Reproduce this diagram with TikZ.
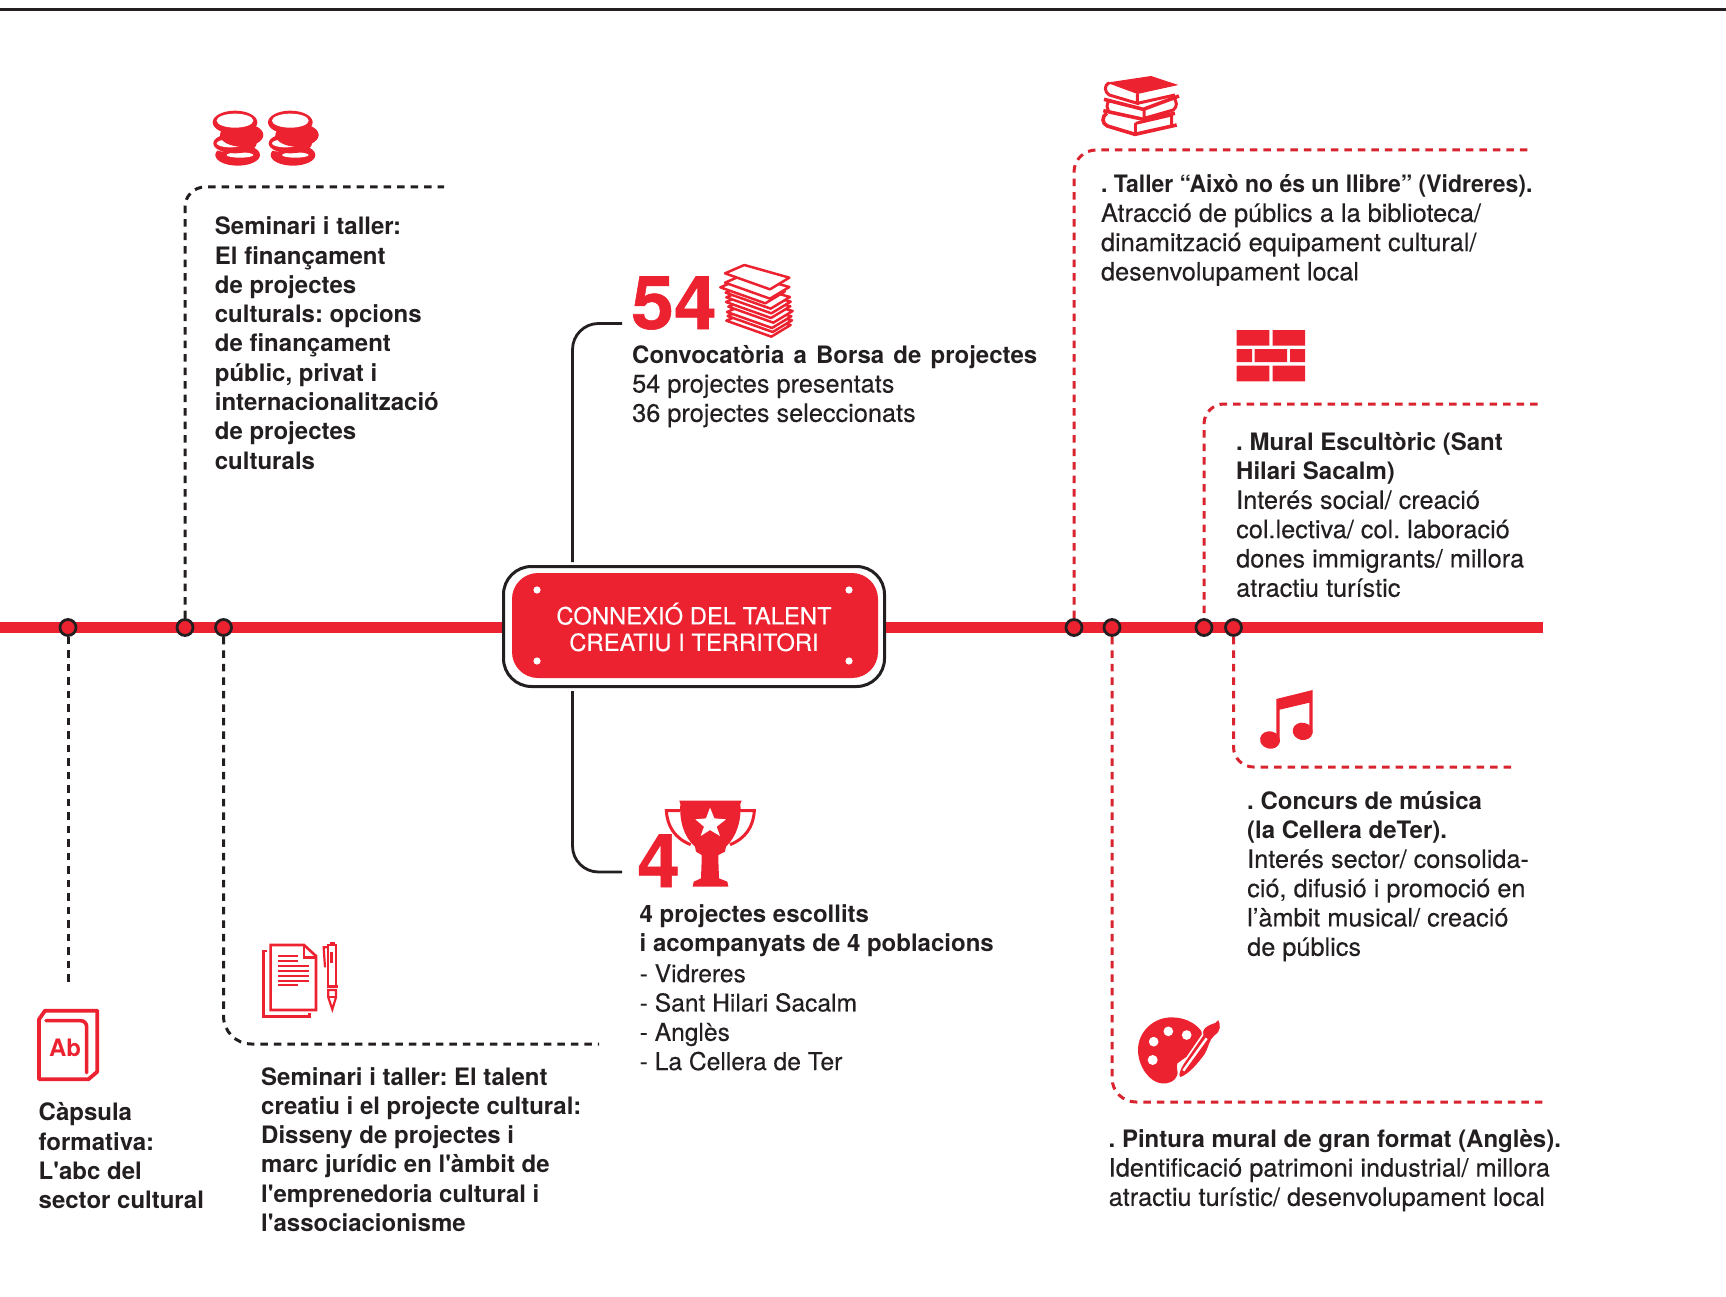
\documentclass[tikz,border=0pt]{standalone}
\usepackage{fontspec}
\usepackage{graphicx}
\newfontfamily\regf[FakeBold=0.2]{TeX Gyre Heros}
\newfontfamily\bldf{TeX Gyre Heros}
\newfontfamily\bigf[FakeBold=0.8,FakeStretch=1.04]{TeX Gyre Heros}
\newcommand\bdl{\bldf\bfseries\fontsize{24}{29.3}\selectfont}
\newcommand\lst{\fontsize{24.6}{29.3}\selectfont}
\definecolor{bred}{HTML}{ED2230}
\definecolor{dred}{HTML}{D9232E}
\definecolor{bink}{HTML}{231F20}
\tikzset{
  txt/.style={inner sep=0pt,anchor=north west,align=left,text=bink,font=\regf\fontsize{25.3}{29.3}\selectfont\frenchspacing},
  big/.style={inner sep=0pt,anchor=base west,text=bred,font=\bigf\bfseries\fontsize{74}{74}\selectfont},
  knot/.style={circle,draw=bink,fill=bred,line width=2.8pt,minimum size=16pt,inner sep=0pt},
  bdash/.style={draw=bink,line width=3pt,dash pattern=on 7.5pt off 6pt},
  rdash/.style={draw=dred,line width=3pt,dash pattern=on 7.5pt off 6pt},
  bracket/.style={draw=bink,line width=2.8pt,rounded corners=26pt,shorten <=3pt},
  rail/.style={draw=bred,line width=11pt},
  icn/.style={draw=bred,line width=3pt,fill=none},
}
\begin{document}
\begin{tikzpicture}[x=1pt,y=-1pt]
\useasboundingbox (0,0) rectangle (1726,1297);
\coordinate (topL) at (0,10); \coordinate (topR) at (1726,10);
\draw[bink,line width=3pt] (topL) -- (topR);
% hub
\node[draw=bink,fill=white,line width=3pt,rounded corners=28pt,minimum width=381pt,minimum height=120pt,inner sep=0pt] (hub) at (694,626.5) {};
\coordinate (railL) at (0,627.5); \coordinate (railR) at (1543,627.5);
\draw[rail] (railL) -- (railL -| hub.west);
\draw[rail] (railL -| hub.east) -- (railR);
\node[fill=bred,rounded corners=26pt,minimum width=366pt,minimum height=105pt,inner sep=0pt] (hubin) at (695,625.5) {};
\node[inner sep=0pt,text=white,align=center,font=\regf\fontsize{23.8}{26.5}\selectfont] (hubtxt) at (694,627) {CONNEXIÓ DEL TALENT\\CREATIU I TERRITORI};
\foreach \nm/\px/\py in {a/537/590,b/849/590,c/537/661,d/849/661}
  \fill[white] (\px,\py) circle (3.6);
% knots
\node[knot] (k1) at (68,627.5) {};
\node[knot] (k2) at (185,627.5) {};
\node[knot] (k3) at (223.5,627.5) {};
\node[knot] (k4) at (1074,627.5) {};
\node[knot] (k5) at (1112,627.5) {};
\node[knot] (k6) at (1204,627.5) {};
\node[knot] (k7) at (1233.5,627.5) {};
% connector ends
\coordinate (e1) at (68,982);
\coordinate (e2) at (444,187);
\coordinate (e3) at (599,1044);
\coordinate (e4) at (1531,150);
\coordinate (e5) at (1538,404);
\coordinate (e6) at (1516,767);
\coordinate (e7) at (1544,1102);
\coordinate (b1) at (622,323.5);
\coordinate (b2) at (622,872);
\coordinate (bx) at (572.5,0);
\draw[bdash] (k1) -- (e1);
\draw[bdash,rounded corners=20pt] (k2) |- (e2);
\draw[bdash,rounded corners=28pt] (k3) |- (e3);
\draw[rdash,rounded corners=22pt] (k4) |- (e4);
\draw[rdash,rounded corners=20pt,dash phase=8.5pt] (k6) |- (e5);
\draw[rdash,rounded corners=20pt] (k7) |- (e6);
\draw[rdash,rounded corners=24pt] (k5) |- (e7);
\draw[bracket] (hub.north -| bx) |- (b1);
\draw[bracket] (hub.south -| bx) |- (b2);
% big numbers
\node[big] (n54) at (631,329) {54};
\node[big] (n4) at (637,887) {4};
% texts
\node[txt] (tA) at (214.7,216.7) {\bdl Seminari i taller:\\\bdl El finançament\\\bdl de projectes\\\bdl culturals: opcions\\\bdl de finançament\\\bdl públic, privat i\\\bdl internacionalització\\\bdl de projectes\\\bdl culturals};
\node[txt] (tC) at (632,345) {\bdl\makebox[405pt][s]{Convocatòria a Borsa de projectes}\\54 projectes presentats\\36 projectes seleccionats};
\node[txt] (tD) at (639.5,904) {\bdl 4 projectes escollits\\\bdl i acompanyats de 4 poblacions\\[1.5pt]\lst - Vidreres\\\lst - Sant Hilari Sacalm\\\lst - Anglès\\\lst - La Cellera de Ter};
\node[txt] (tE) at (38.5,1102.6) {\bdl Càpsula\\\bdl formativa:\\\bdl L'abc del\\\bdl sector cultural};
\node[txt] (tF) at (261,1067) {\bdl Seminari i taller: El talent\\\bdl creatiu i el projecte cultural:\\\bdl Disseny de projectes i\\\bdl marc jurídic en l'àmbit de\\\bdl l'emprenedoria cultural i\\\bdl l'associacionisme};
\node[txt] (tG) at (1100.8,174.3) {\resizebox{431.5pt}{\height}{\bdl . Taller “Això no és un llibre” (Vidreres).}\\Atracció de públics a la biblioteca/\\dinamització equipament cultural/\\desenvolupament local};
\node[txt] (tH) at (1236,432) {\bdl . Mural Escultòric (Sant\\\bdl Hilari Sacalm)\\Interés social/ creació\\col.lectiva/ col. laboració\\dones immigrants/ millora\\atractiu turístic};
\node[txt] (tI) at (1247,791) {\bdl . Concurs de música\\\bdl (la Cellera deTer).\\Interés sector/ consolida-\\ció, difusió i promoció en\\l’àmbit musical/ creació\\de públics};
\node[txt] (tJ) at (1108.5,1129) {\bdl . Pintura mural de gran format (Anglès).\\Identificació patrimoni industrial/ millora\\atractiu turístic/ desenvolupament local};
% coins
\begin{scope}[shift={(180,90)},scale=1/3]
\foreach \sx in {0,166}{
\begin{scope}[shift={(\sx,0)}]
\fill[bred] (173,195) ellipse [x radius=67,y radius=32];
\fill[white] (180,195) ellipse [x radius=40,y radius=8];
\fill[white] (145,174) ellipse [x radius=42,y radius=12];
\fill[bred] (165,160) ellipse [x radius=65,y radius=30];
\fill[white] (150,160) ellipse [x radius=40,y radius=12];
\fill[bred] (185,135) ellipse [x radius=65,y radius=35];
\fill[bred] (165,97) ellipse [x radius=67,y radius=35];
\fill[white] (165,92) ellipse [x radius=55,y radius=21];
\end{scope}}
\end{scope}
% paper stack
\begin{scope}[shift={(610,240)},scale=1/3]
\foreach \dx/\dy in {4/142,8/128,6/116,10/100,3/86,4/72,2/58,-14/42,0/28,0/0}
  \draw[bred,fill=white,line width=2.5pt,line join=round] (345+\dx,100+\dy) -- (403+\dx,75+\dy) -- (538+\dx,113+\dy) -- (480+\dx,148+\dy) -- cycle;
\end{scope}
% books
\begin{scope}[shift={(1080,60)},scale=1/3]
\fill[bred] (80,68) -- (213,48) -- (295,75) -- (172,102) -- cycle;
\draw[icn] (88,68) .. controls (72,75) and (72,95) .. (88,105) -- (172,130) -- (172,102);
\draw[icn] (172,130) -- (285,105);
\draw[icn,line width=3.6pt] (72,118) -- (190,148) -- (297,108);
\draw[icn] (280,112) .. controls (292,125) and (292,140) .. (280,150) -- (192,175) -- (192,148);
\draw[icn] (85,125) .. controls (80,135) and (80,145) .. (85,152);
\draw[icn,line width=3.6pt] (70,152) -- (190,178) -- (285,160);
\draw[icn,line width=3.6pt] (80,160) .. controls (65,170) and (65,190) .. (82,198) -- (165,223) -- (290,195);
\draw[icn] (167,190) -- (167,222);
\draw[icn] (167,190) -- (275,165) -- (275,195);
\end{scope}
% bricks
\begin{scope}[shift={(1190,310)},scale=1/3]
\fill[bred] (140,60) rectangle (238,107) (248,60) rectangle (345,107)
 (140,117) rectangle (186,156) (194,117) rectangle (291,156) (300,117) rectangle (345,156)
 (140,167) rectangle (238,214) (248,167) rectangle (345,214);
\end{scope}
% music
\begin{scope}[shift={(1210,610)},scale=1/3]
\fill[bred] (199,267) -- (308,240) -- (308,370) -- (298,370) -- (298,278) -- (209,299) -- (209,390) -- (199,390) -- cycle;
\fill[bred,rotate around={-12:(180,390)}] (180,390) ellipse [x radius=30,y radius=26];
\fill[bred,rotate around={-12:(278,364)}] (278,364) ellipse [x radius=30,y radius=26];
\end{scope}
% trophy
\begin{scope}[shift={(620,780)},scale=1/3]
\draw[bred,line width=3pt] (180,92) -- (139,92) .. controls (142,140) and (165,175) .. (212,194);
\draw[bred,line width=3pt] (360,92) -- (403,92) .. controls (400,140) and (377,175) .. (330,194);
\fill[bred] (178,62) -- (365,62) -- (361,72) .. controls (365,120) and (350,170) .. (318,200) -- (315,215) -- (295,225) -- (295,240) -- (297,295) -- (322,305) -- (325,320) -- (218,320) -- (221,305) -- (243,295) -- (245,240) -- (245,225) -- (228,215) -- (225,200) .. controls (190,170) and (178,120) .. (181,72) -- cycle;
\fill[white] (270,83) -- (283,115) -- (318,118) -- (290,140) -- (300,168) -- (270,150) -- (242,168) -- (252,140) -- (226,118) -- (258,115) -- cycle;
\end{scope}
% doc, pen, Ab book
\begin{scope}[shift={(20,920)},scale=1/3]
\draw[icn,line width=2.6pt,miter limit=10] (752,75) -- (852,75) -- (888,108) -- (888,270) -- (752,270) -- cycle;
\draw[icn,line width=2.4pt] (852,75) -- (852,112) -- (888,112);
\foreach \ly/\lx in {108/833,123/833,138/868,153/868,168/868,182/868,196/833}
  \draw[bred,line width=2.2pt] (775,\ly) -- (\lx,\ly);
\draw[icn,line width=2.6pt] (742,93) -- (730,93) -- (730,290) -- (868,290) -- (868,280);
\draw[icn,line width=2.2pt] (925,200) -- (925,75) -- (948,75) -- (948,200);
\draw[bred,line width=2.6pt] (930,70) -- (945,70);
\draw[icn,line width=2.2pt] (925,82) -- (911,82) -- (915,142);
\draw[bred,line width=2.6pt] (935,95) -- (935,130);
\draw[bred,line width=2.4pt] (920,200) -- (953,200);
\draw[icn,line width=2.2pt] (925,210) -- (948,210) -- (948,232) -- (937,268) -- (925,232) -- cycle;
\draw[bred,line width=2.2pt] (925,232) -- (948,232);
\draw[icn,line width=3.8pt,line join=round] (75,272) -- (232,272) -- (232,455) -- (205,478) -- (57,478) -- (57,298) -- cycle;
\draw[icn,line width=3.6pt,line cap=round,rounded corners=6pt] (78,302) -- (200,302) -- (200,458);
\node[inner sep=0pt,text=bred,font=\bldf\bfseries\fontsize{24}{24}\selectfont] (ab) at (135,385) {Ab};
\end{scope}
% palette
\begin{scope}[shift={(1090,1000)},scale=1/3]
\fill[bred] (245,52) .. controls (290,52) and (325,75) .. (338,100) -- (290,170) -- (262,190) .. controls (258,205) and (265,215) .. (262,225) .. controls (255,245) and (235,252) .. (215,250) .. controls (180,248) and (144,200) .. (144,150) .. controls (144,95) and (190,52) .. (245,52) -- cycle;
\fill[white] (191,125) circle (14.5) (235,94) circle (14.5) (290,105) circle (14.5) (188,180) circle (15);
\draw[white,line width=1.4pt,fill=bred] (385,56) .. controls (396,75) and (395,95) .. (375,108) .. controls (358,122) and (360,140) .. (345,165) .. controls (330,185) and (300,225) .. (270,234) .. controls (258,225) and (275,195) .. (290,175) -- (338,105) .. controls (332,90) and (345,78) .. (360,72) .. controls (370,70) and (380,65) .. (385,56) -- cycle;
\draw[white,line width=2.4pt] (350,115) -- (280,212);
\end{scope}
\end{tikzpicture}
\end{document}
